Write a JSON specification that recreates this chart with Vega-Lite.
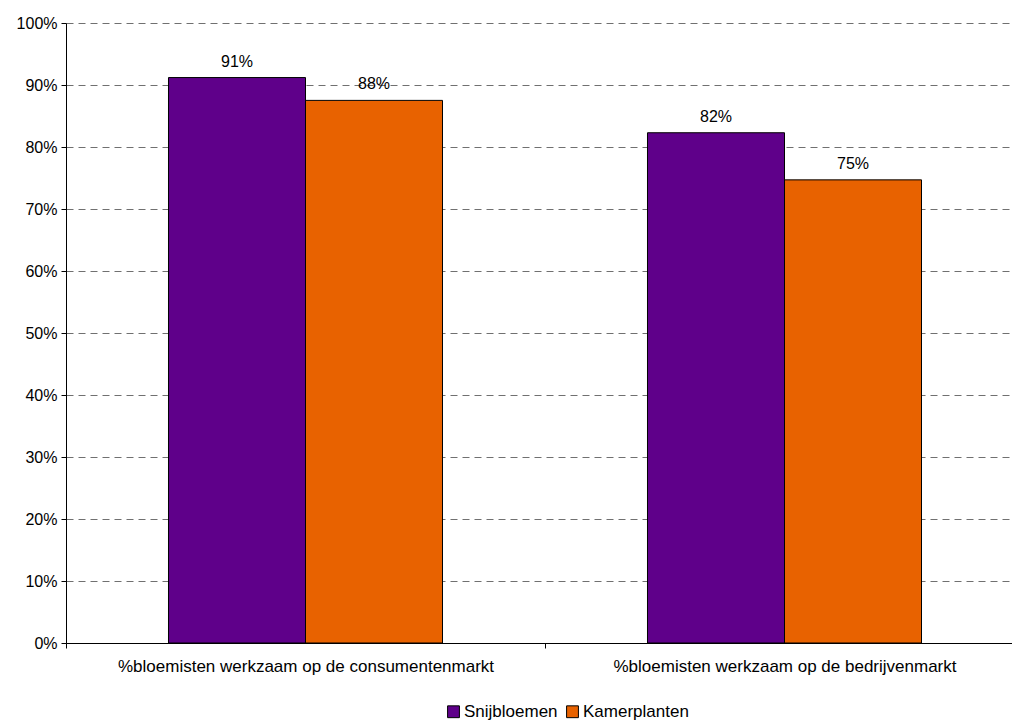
{
  "$schema": "https://vega.github.io/schema/vega-lite/v6.json",
  "autosize": "none",
  "width": 958,
  "height": 620,
  "padding": {"left": 66, "top": 23, "right": 0, "bottom": 81},
  "background": "white",
  "config": {
    "font": "Liberation Sans",
    "view": {"stroke": null}
  },
  "data": {
    "values": [
      {"categorie": "%bloemisten werkzaam op de consumentenmarkt", "soort": "Snijbloemen", "waarde": 0.912},
      {"categorie": "%bloemisten werkzaam op de consumentenmarkt", "soort": "Kamerplanten", "waarde": 0.8752},
      {"categorie": "%bloemisten werkzaam op de bedrijvenmarkt", "soort": "Snijbloemen", "waarde": 0.823},
      {"categorie": "%bloemisten werkzaam op de bedrijvenmarkt", "soort": "Kamerplanten", "waarde": 0.747}
    ]
  },
  "encoding": {
    "x": {
      "field": "categorie",
      "type": "nominal",
      "sort": null,
      "scale": {"paddingInner": 0, "paddingOuter": 0},
      "axis": {
        "title": null,
        "labelAngle": 0,
        "labelFontSize": 17,
        "labelLimit": 0,
        "labelColor": "#000000",
        "labelPadding": 10,
        "tickBand": "extent",
        "tickSize": 5,
        "tickColor": "#000000",
        "domainColor": "#000000",
        "grid": false
      }
    },
    "xOffset": {
      "field": "soort",
      "type": "nominal",
      "sort": ["Snijbloemen", "Kamerplanten"],
      "scale": {"paddingInner": 0, "paddingOuter": 0.748}
    },
    "y": {
      "field": "waarde",
      "type": "quantitative",
      "scale": {"domain": [0, 1]},
      "axis": {
        "title": null,
        "format": ".0%",
        "values": [0, 0.1, 0.2, 0.3, 0.4, 0.5, 0.6, 0.7, 0.8, 0.9, 1],
        "labelFontSize": 16,
        "labelColor": "#000000",
        "labelPadding": 4,
        "tickSize": 5,
        "tickColor": "#000000",
        "domainColor": "#000000",
        "grid": true,
        "gridColor": "#707070",
        "gridDash": [7, 5],
        "gridWidth": 1
      }
    }
  },
  "layer": [
    {
      "mark": {"type": "bar", "stroke": "#000000", "strokeWidth": 1},
      "encoding": {
        "color": {
          "field": "soort",
          "type": "nominal",
          "sort": ["Snijbloemen", "Kamerplanten"],
          "scale": {"domain": ["Snijbloemen", "Kamerplanten"], "range": ["#5f008a", "#e86200"]},
          "legend": {
            "title": null,
            "orient": "none",
            "direction": "horizontal",
            "legendX": 379,
            "legendY": 680,
            "symbolType": "square",
            "symbolSize": 140,
            "symbolStrokeColor": "#000000",
            "symbolStrokeWidth": 1,
            "labelFontSize": 17,
            "labelColor": "#000000",
            "labelOffset": 2,
            "columnPadding": 6
          }
        }
      }
    },
    {
      "mark": {"type": "text", "baseline": "bottom", "dy": -8, "fontSize": 16, "color": "#000000"},
      "encoding": {
        "text": {"field": "waarde", "type": "quantitative", "format": ".0%"}
      }
    }
  ]
}
